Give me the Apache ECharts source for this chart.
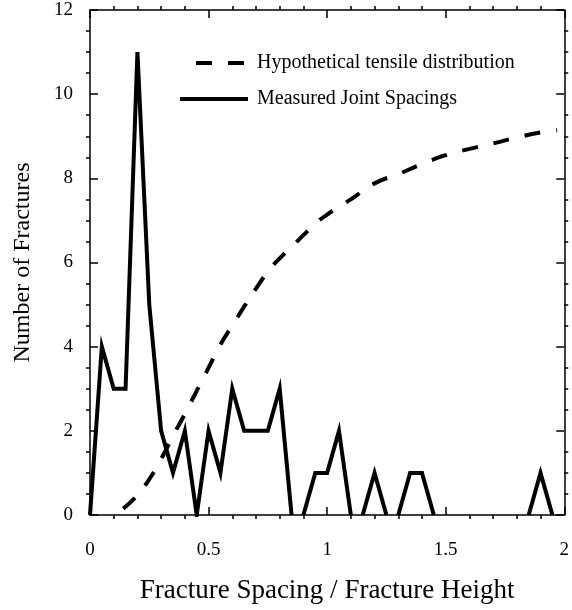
<!DOCTYPE html>
<html>
<head>
<meta charset="utf-8">
<script src="https://cdn.jsdelivr.net/npm/echarts@6/dist/echarts.min.js"></script>
<style>
html, body { margin: 0; padding: 0; background: #fff; }
#chart { width: 572px; height: 610px; }
</style>
</head>
<body>
<div id="chart"></div>
<script>
// measured joint spacings (binned)
var spacingBins = [0, 0.05, 0.1, 0.15, 0.2, 0.25, 0.3, 0.35, 0.4, 0.45,
    0.5, 0.55, 0.6, 0.65, 0.7, 0.75, 0.8, 0.85, 0.9, 0.95,
    1.0, 1.05, 1.1, 1.15, 1.2, 1.25, 1.3, 1.35, 1.4, 1.45,
    1.5, 1.55, 1.6, 1.65, 1.7, 1.75, 1.8, 1.85, 1.9, 1.95];
var jointCounts = [0, 4, 3, 3, 11, 5, 2, 1, 2, 0,
    2, 1, 3, 2, 2, 2, 3, 0, 0, 1,
    1, 2, 0, 0, 1, 0, 0, 1, 1, 0,
    0, 0, 0, 0, 0, 0, 0, 0, 1, 0];

// hypothetical tensile distribution
var tensileX = [0.14, 0.2, 0.25, 0.3, 0.35, 0.4, 0.45, 0.5, 0.55, 0.6,
    0.65, 0.7, 0.75, 0.8, 0.85, 0.9, 0.95, 1.0, 1.1, 1.2,
    1.3, 1.4, 1.5, 1.6, 1.7, 1.8, 1.9, 1.97];
var tensileY = [0.15, 0.47, 0.85, 1.33, 1.88, 2.4, 2.95, 3.5, 4.05, 4.5,
    4.95, 5.38, 5.78, 6.1, 6.37, 6.65, 6.92, 7.14, 7.5, 7.88,
    8.1, 8.34, 8.55, 8.7, 8.83, 8.97, 9.09, 9.14];

var xTicks = ['0', '0.5', '1', '1.5', '2'];

var chart = echarts.init(document.getElementById('chart'));

// break the line where two zero bins follow each other
var measuredData = [];
for (var i = 0; i < spacingBins.length; i++) {
    if (i > 0 && jointCounts[i] === 0 && jointCounts[i - 1] === 0) {
        measuredData.push([(spacingBins[i] + spacingBins[i - 1]) / 2, '-']);
    }
    measuredData.push([spacingBins[i], jointCounts[i]]);
}
var tensileData = tensileX.map(function (x, i) { return [x, tensileY[i]]; });

var font = 'Liberation Serif';
var axisBase = {
    axisLine: { show: true, onZero: false, lineStyle: { color: '#000', width: 1.5 } },
    axisTick: { show: true, inside: true, length: 8, lineStyle: { color: '#000', width: 1.5 } },
    minorTick: { show: true, length: -4, lineStyle: { color: '#000', width: 1.5 } },
    splitLine: { show: false },
    minorSplitLine: { show: false }
};

// legend icons: two dashes / one solid bar, 68px wide
var dashIcon = 'path://M0,0L0,4Z M16,0h16v4h-16z M48,0h16v4h-16z M68,0L68,4Z';
var solidIcon = 'path://M0,0h68v4h-68z';

var option = {
    backgroundColor: '#fff',
    animation: false,
    grid: { left: 90, right: 6, top: 10, bottom: 95 },
    legend: {
        orient: 'vertical',
        left: 180,
        top: 53,
        padding: 0,
        itemWidth: 68,
        itemHeight: 4,
        itemGap: 16,
        textStyle: { fontFamily: font, fontSize: 20, color: '#000', padding: [0, 0, 0, 4] },
        data: [
            { name: 'Hypothetical tensile distribution', icon: dashIcon },
            { name: 'Measured Joint Spacings', icon: solidIcon }
        ]
    },
    xAxis: [
        Object.assign({}, axisBase, {
            type: 'value', min: 0, max: 2, interval: 0.5, position: 'bottom',
            minorTick: Object.assign({}, axisBase.minorTick, { splitNumber: 5 }),
            axisLabel: {
                margin: 26, fontFamily: font, fontSize: 19, color: '#000',
                formatter: function (v) { return xTicks[Math.round(v / 0.5)]; }
            },
            name: 'Fracture Spacing / Fracture Height',
            nameLocation: 'middle', nameGap: 62,
            nameTextStyle: { fontFamily: font, fontSize: 27, color: '#000' }
        }),
        Object.assign({}, axisBase, {
            type: 'value', min: 0, max: 2, interval: 0.5, position: 'top',
            minorTick: Object.assign({}, axisBase.minorTick, { splitNumber: 5 }),
            axisLabel: { show: false }
        })
    ],
    yAxis: [
        Object.assign({}, axisBase, {
            type: 'value', min: 0, max: 12, interval: 2, position: 'left',
            minorTick: Object.assign({}, axisBase.minorTick, { splitNumber: 4 }),
            axisLabel: { margin: 17, fontFamily: font, fontSize: 19, color: '#000', padding: [5, 0, 0, 0] },
            name: 'Number of Fractures',
            nameLocation: 'middle', nameGap: 55, nameRotate: 90,
            nameTextStyle: { fontFamily: font, fontSize: 24, color: '#000' }
        }),
        Object.assign({}, axisBase, {
            type: 'value', min: 0, max: 12, interval: 2, position: 'right',
            minorTick: Object.assign({}, axisBase.minorTick, { splitNumber: 4 }),
            axisLabel: { show: false }
        })
    ],
    series: [{
        name: 'Hypothetical tensile distribution',
        type: 'line',
        smooth: true,
        showSymbol: false,
        symbol: 'none',
        lineStyle: { color: '#000', width: 4, type: [16, 16] },
        itemStyle: { color: '#000' },
        data: tensileData
    }, {
        name: 'Measured Joint Spacings',
        type: 'line',
        showSymbol: false,
        symbol: 'none',
        connectNulls: false,
        lineStyle: { color: '#000', width: 4, join: 'miter', miterLimit: 10 },
        itemStyle: { color: '#000' },
        data: measuredData
    }]
};
chart.setOption(option);
</script>
</body>
</html>
